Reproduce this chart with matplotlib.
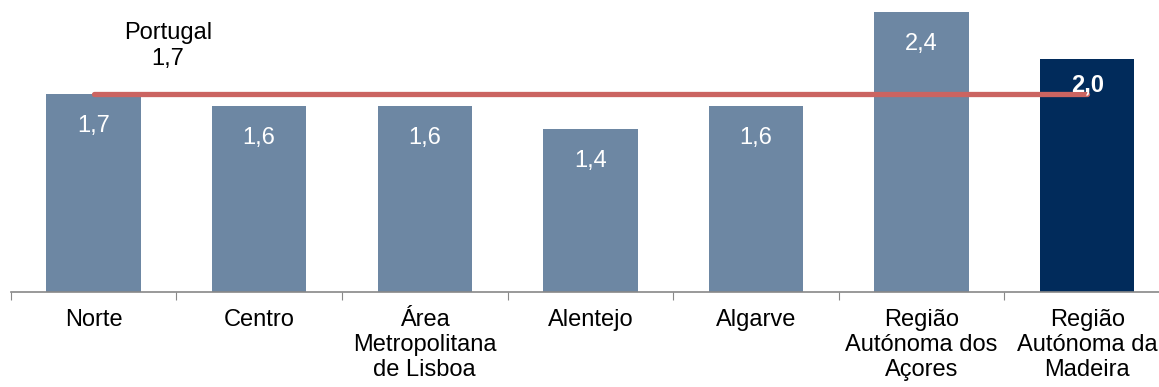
import matplotlib.pyplot as plt
import numpy as np

plt.rcParams['font.family'] = ['Liberation Sans', 'DejaVu Sans']

regions = ["Norte", "Centro", "Área\nMetropolitana\nde Lisboa", "Alentejo", "Algarve",
           "Região\nAutónoma dos\nAçores", "Região\nAutónoma da\nMadeira"]
values = [1.7, 1.6, 1.6, 1.4, 1.6, 2.4, 2.0]
portugal = 1.7

bar_color = "#6D87A3"
highlight_color = "#012B5B"
line_color = "#CB6461"

fig = plt.figure(figsize=(11.59, 3.87), dpi=100)
ax = fig.add_axes([0.00923, 0.2455, 1.0003, 0.7545])

x = np.arange(len(values))
colors = [bar_color] * (len(values) - 1) + [highlight_color]
ax.bar(x, values, width=0.57, color=colors, zorder=2)

# national average line
ax.plot([x[0], x[-1]], [portugal, portugal], color=line_color, lw=3.8,
        solid_capstyle="round", zorder=3)
ax.text(0.45, portugal + 0.41, "Portugal\n%s" % str(portugal).replace(".", ","),
        ha="center", va="center", fontsize=17, linespacing=1.2)

# value labels inside bars
for i, v in enumerate(values):
    last = i == len(values) - 1
    ax.annotate(str(v).replace(".", ","), (x[i], v), xytext=(0, -19 if last else -23),
                textcoords="offset points", ha="center", va="center",
                color="white", fontsize=17, fontweight="bold" if last else "normal",
                zorder=4)

ax.set_xlim(-0.5, len(values) - 0.5)
ax.set_ylim(0, 2.506)

ax.set_xticks(np.arange(len(values) + 1) - 0.5)
ax.set_xticklabels([])
ax.tick_params(axis="x", which="major", length=6, color="#888888", direction="out")
ax.set_xticks(x, minor=True)
ax.set_xticklabels(regions, minor=True, fontsize=17, linespacing=1.2, va="top")
ax.tick_params(axis="x", which="minor", length=0, pad=12)

ax.set_yticks([])
for s in ["top", "right", "left"]:
    ax.spines[s].set_visible(False)
ax.spines["bottom"].set_color("#888888")
ax.spines["bottom"].set_linewidth(1.2)

plt.savefig("out.png", dpi=100)
